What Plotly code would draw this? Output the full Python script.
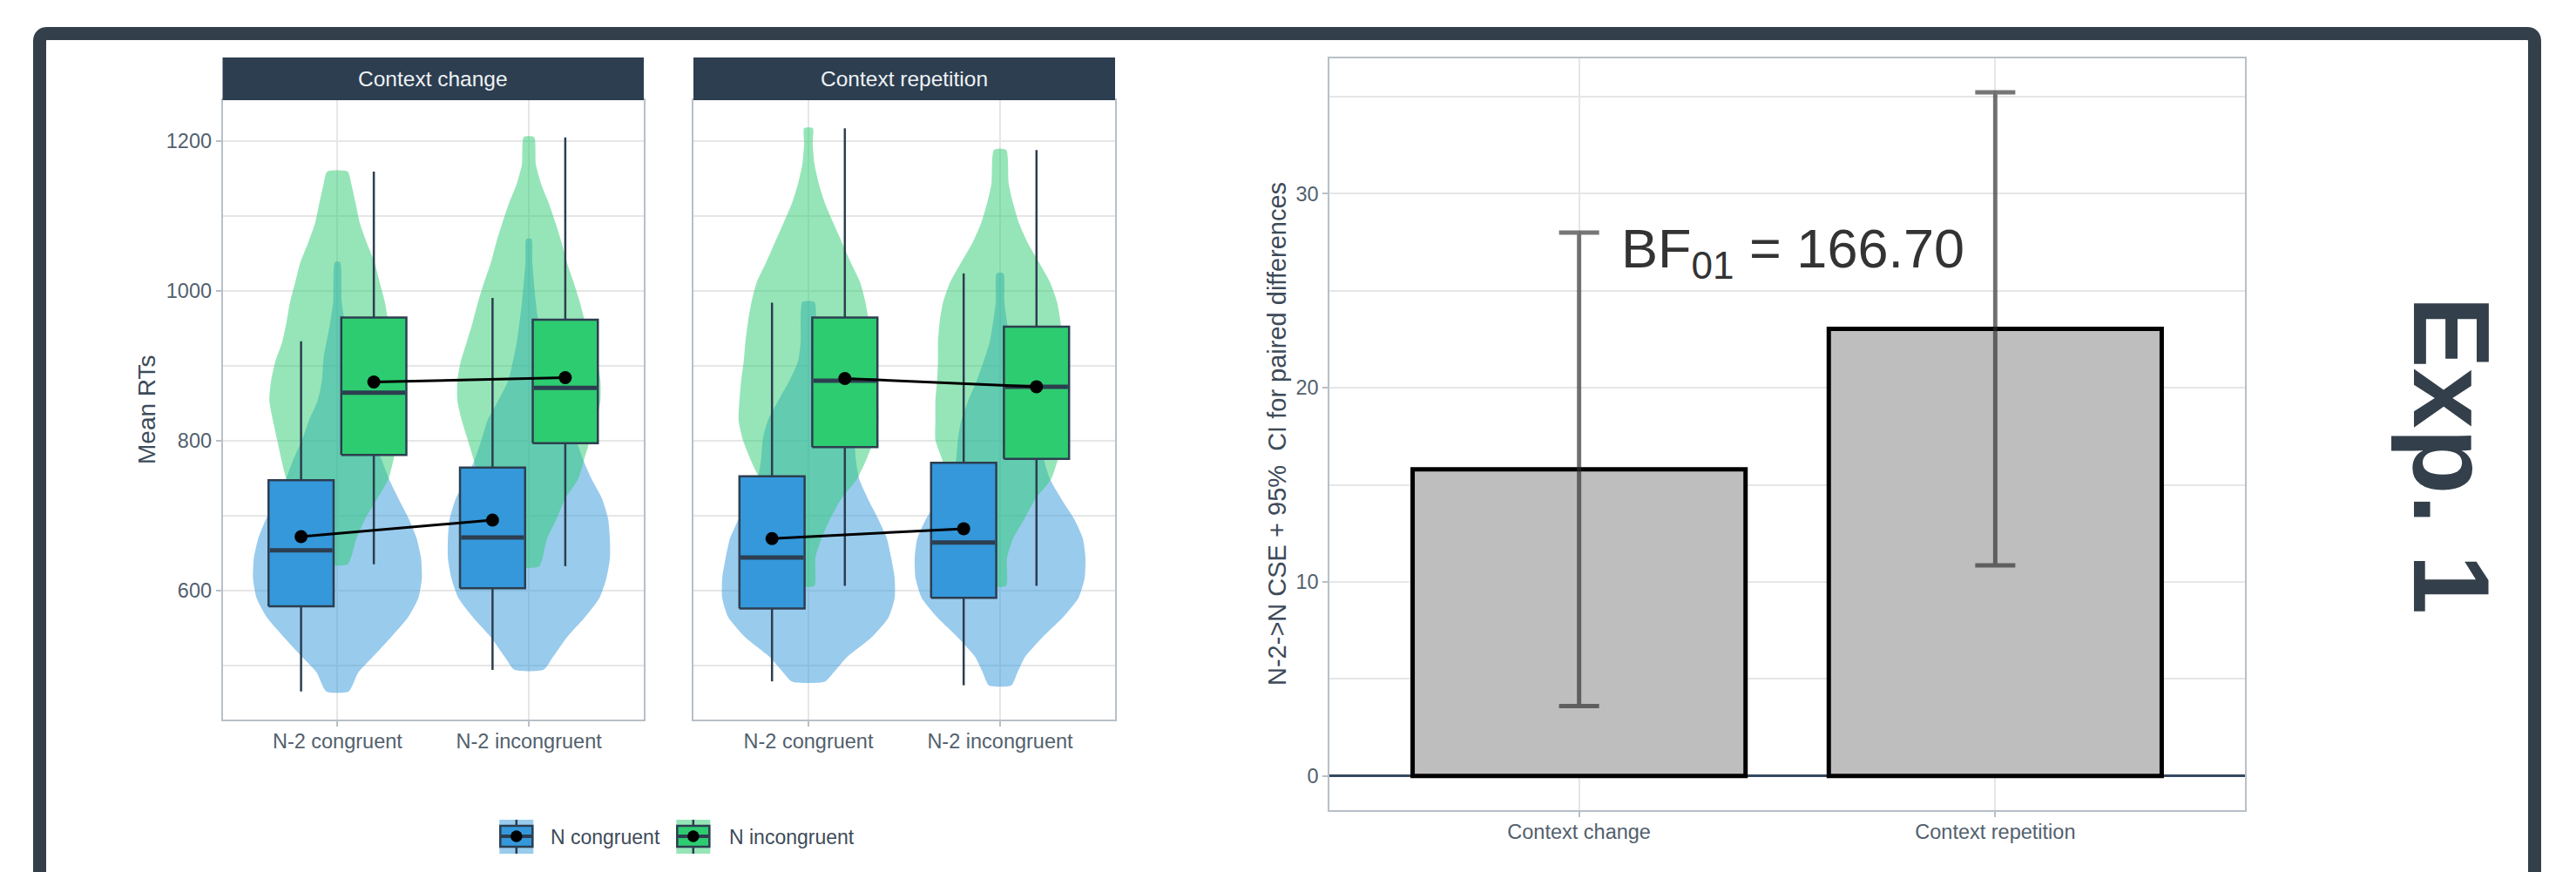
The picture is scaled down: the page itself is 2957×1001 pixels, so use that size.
import plotly.graph_objects as go

W, H = 2957, 1001

# ---------------------------------------------------------------- data
contexts = ["Context change", "Context repetition"]
n2_levels = ["N-2 congruent", "N-2 incongruent"]
n_levels = ["N congruent", "N incongruent"]

# box statistics, order: [change/N-2 cong, change/N-2 incong, repetition/N-2 cong, repetition/N-2 incong]
cong_q1 = [578.5, 602.7, 575.8, 590.0]
cong_median = [653.3, 670.6, 643.8, 663.8]
cong_q3 = [747.0, 763.8, 752.3, 770.2]
cong_lower = [465.0, 493.7, 478.4, 473.2]
cong_upper = [932.3, 990.3, 984.0, 1023.0]
cong_mean = [671.7, 693.8, 669.0, 682.2]

incong_q1 = [780.7, 796.5, 791.2, 775.4]
incong_median = [863.9, 870.2, 879.7, 871.8]
incong_q3 = [964.0, 961.3, 964.0, 951.8]
incong_lower = [634.8, 632.2, 605.9, 605.9]
incong_upper = [1158.8, 1204.6, 1216.7, 1187.7]
incong_mean = [878.1, 883.9, 882.8, 871.8]

# violin density profiles (RT level -> relative density)
vio_change_c_cong_rt = [465, 490, 511, 537, 564, 590, 616, 643, 669, 695, 722, 748, 775, 801, 827, 853, 880, 911, 953, 985, 1038]
vio_change_c_cong_d = [.13, .24, .41, .62, .82, .94, .98, .97, .92, .83, .71, .60, .51, .41, .33, .23, .18, .16, .09, .05, .03]
vio_change_c_incong_rt = [635, 669, 695, 722, 748, 774, 801, 827, 853, 880, 906, 932, 959, 985, 1011, 1038, 1064, 1090, 1117, 1143, 1159]
vio_change_c_incong_d = [.12, .22, .32, .46, .59, .65, .70, .75, .79, .77, .72, .64, .59, .55, .49, .43, .34, .26, .21, .16, .12]
vio_change_i_cong_rt = [494, 511, 537, 564, 590, 616, 643, 669, 695, 722, 748, 774, 801, 827, 848, 880, 932, 985, 1038, 1069]
vio_change_i_cong_d = [.17, .28, .44, .65, .82, .90, .94, .94, .92, .85, .73, .63, .55, .48, .38, .24, .14, .08, .04, .03]
vio_change_i_incong_rt = [632, 669, 695, 722, 748, 774, 801, 827, 853, 880, 906, 932, 959, 985, 1011, 1038, 1064, 1090, 1117, 1143, 1169, 1205]
vio_change_i_incong_d = [.12, .21, .32, .42, .57, .64, .71, .78, .83, .83, .79, .72, .65, .59, .52, .44, .38, .31, .23, .14, .08, .06]
vio_rep_c_cong_rt = [478, 490, 511, 537, 564, 590, 616, 643, 669, 695, 722, 748, 774, 801, 827, 853, 880, 906, 932, 959, 985]
vio_rep_c_cong_d = [.19, .29, .45, .73, .93, 1.0, 1.0, .96, .91, .81, .69, .59, .55, .53, .47, .35, .22, .12, .09, .09, .07]
vio_rep_c_incong_rt = [606, 643, 669, 695, 722, 748, 774, 801, 827, 853, 880, 906, 932, 959, 985, 1011, 1038, 1064, 1090, 1117, 1143, 1169, 1196, 1217]
vio_rep_c_incong_d = [.07, .08, .15, .25, .38, .56, .67, .76, .81, .80, .78, .75, .73, .70, .66, .60, .49, .39, .29, .19, .12, .07, .05, .05]
vio_rep_i_cong_rt = [473, 490, 511, 537, 564, 590, 616, 643, 669, 695, 722, 748, 774, 801, 827, 853, 880, 932, 985, 1023]
vio_rep_i_cong_d = [.13, .20, .29, .49, .73, .91, .98, .99, .96, .86, .71, .58, .51, .49, .45, .37, .27, .12, .05, .04]
vio_rep_i_incong_rt = [606, 643, 669, 695, 722, 748, 774, 801, 827, 853, 880, 906, 932, 959, 985, 1011, 1038, 1064, 1090, 1117, 1143, 1188]
vio_rep_i_incong_d = [.07, .08, .15, .28, .41, .59, .67, .75, .75, .75, .73, .72, .72, .70, .66, .58, .45, .32, .22, .15, .10, .07]

# N-2 -> N congruency sequence effect per context
cse_mean = [15.8, 23.04]
cse_ci_low = [3.6, 10.85]
cse_ci_high = [28.0, 35.23]
bf01_text = "BF<sub>01</sub> = 166.70"

# ---------------------------------------------------------------- style
FONT = "Liberation Sans, Arial, Helvetica, sans-serif"
BLUE = "#3498db"
GREEN = "#2ecc71"
BLUE_A = "rgba(52,152,219,0.5)"
GREEN_A = "rgba(46,204,113,0.5)"
DARK = "#2c3e50"
FRAME = "#333f4a"
GRID = "#e6e6e6"
BORDER = "#b8c0c8"
TICK_COL = "#52606d"
TITLE_COL = "#3d4b59"

VIOLIN_HALF = 0.45      # x-units for relative density 1.0
BOX_OFFSET = 0.19
BOX_WIDTH = 0.34


def fx(px):
    return px / W


def fy(py):
    return 1 - py / H


fig = go.Figure()

violins = {
    (0, 0, 0): (vio_change_c_cong_rt, vio_change_c_cong_d),
    (0, 0, 1): (vio_change_c_incong_rt, vio_change_c_incong_d),
    (0, 1, 0): (vio_change_i_cong_rt, vio_change_i_cong_d),
    (0, 1, 1): (vio_change_i_incong_rt, vio_change_i_incong_d),
    (1, 0, 0): (vio_rep_c_cong_rt, vio_rep_c_cong_d),
    (1, 0, 1): (vio_rep_c_incong_rt, vio_rep_c_incong_d),
    (1, 1, 0): (vio_rep_i_cong_rt, vio_rep_i_cong_d),
    (1, 1, 1): (vio_rep_i_incong_rt, vio_rep_i_incong_d),
}

axes = [("x", "y"), ("x2", "y2")]

# violins: congruent first, incongruent drawn over it
for n in (0, 1):
    for c in (0, 1):
        xa, ya = axes[c]
        for k in (0, 1):
            rt, dens = violins[(c, k, n)]
            centre = k + 1
            xs = [centre + d * VIOLIN_HALF for d in dens] + [centre - d * VIOLIN_HALF for d in reversed(dens)]
            ys = list(rt) + list(reversed(rt))
            fig.add_trace(go.Scatter(
                x=xs + [xs[0]], y=ys + [ys[0]], mode="lines", fill="toself",
                fillcolor=[BLUE_A, GREEN_A][n], line=dict(width=0, shape="spline", smoothing=0.6),
                xaxis=xa, yaxis=ya, hoverinfo="skip", showlegend=False))

stats = [
    (cong_q1, cong_median, cong_q3, cong_lower, cong_upper, cong_mean, BLUE, -BOX_OFFSET),
    (incong_q1, incong_median, incong_q3, incong_lower, incong_upper, incong_mean, GREEN, BOX_OFFSET),
]

# boxplots (whiskers, box, thick median) drawn as line/area traces so they sit above the violins
for c in (0, 1):
    xa, ya = axes[c]
    for q1, med, q3, lo, hi, mean, col, off in stats:
        for k in (0, 1):
            i = 2 * c + k
            p = k + 1 + off
            hw = BOX_WIDTH / 2
            fig.add_trace(go.Scatter(
                x=[p, p, None, p, p], y=[q3[i], hi[i], None, q1[i], lo[i]], mode="lines",
                line=dict(color=DARK, width=2.5), xaxis=xa, yaxis=ya, hoverinfo="skip", showlegend=False))
            fig.add_trace(go.Scatter(
                x=[p - hw, p + hw, p + hw, p - hw, p - hw], y=[q1[i], q1[i], q3[i], q3[i], q1[i]],
                mode="lines", fill="toself", fillcolor=col, line=dict(color=DARK, width=2.5),
                xaxis=xa, yaxis=ya, hoverinfo="skip", showlegend=False))
            fig.add_trace(go.Scatter(
                x=[p - hw + 0.006, p + hw - 0.006], y=[med[i], med[i]], mode="lines",
                line=dict(color=DARK, width=5), xaxis=xa, yaxis=ya, hoverinfo="skip", showlegend=False))

# condition means joined across N-2 levels
for c in (0, 1):
    xa, ya = axes[c]
    for q1, med, q3, lo, hi, mean, col, off in stats:
        fig.add_trace(go.Scatter(x=[1 + off, 2 + off], y=mean[2 * c:2 * c + 2], mode="lines+markers",
                                 line=dict(color="black", width=3),
                                 marker=dict(color="black", size=15),
                                 xaxis=xa, yaxis=ya, hoverinfo="skip", showlegend=False))

# bar chart of the CSE with 95% CI
fig.add_trace(go.Bar(
    x=[1, 2], y=cse_mean, width=0.8,
    marker=dict(color="#bebebe", line=dict(color="black", width=5)),
    error_y=dict(type="data", symmetric=False,
                 array=[h - m for h, m in zip(cse_ci_high, cse_mean)],
                 arrayminus=[m - l for m, l in zip(cse_mean, cse_ci_low)],
                 color="rgba(45,45,45,0.65)", thickness=5, width=23),
    xaxis="x3", yaxis="y3", hoverinfo="skip", showlegend=False))

tickfont = dict(family=FONT, size=23.5, color=TICK_COL)
common = dict(showline=True, linecolor=BORDER, linewidth=1.5, mirror=True,
              gridcolor=GRID, gridwidth=2, zeroline=False, tickfont=tickfont,
              ticks="outside", ticklen=6, tickcolor=BORDER, tickwidth=1.5)

xcat = dict(range=[0.4, 2.6], tickvals=[1, 2], ticktext=n2_levels, showgrid=True,
            ticklabelstandoff=-3, **common)
ydom = [fy(826), fy(115)]
yleft = dict(range=[427.4, 1254.3], tickvals=[600, 800, 1000, 1200], showgrid=True,
             minor=dict(tickvals=[500, 700, 900, 1100], showgrid=True, gridcolor=GRID, gridwidth=2, ticks=""),
             **common)

fig.update_layout(
    width=W, height=H, autosize=False,
    margin=dict(l=0, r=0, t=0, b=0),
    paper_bgcolor="white", plot_bgcolor="white",
    font=dict(family=FONT),
    xaxis=dict(domain=[fx(255.5), fx(739)], anchor="y", **xcat),
    xaxis2=dict(domain=[fx(796), fx(1280)], anchor="y2", **xcat),
    yaxis=dict(domain=ydom, anchor="x", **yleft),
    yaxis2=dict(domain=ydom, anchor="x2", matches="y", showticklabels=False, **yleft),
    xaxis3=dict(domain=[fx(1526), fx(2577)], anchor="y3", range=[0.4, 2.6],
                tickvals=[1, 2], ticktext=contexts, showgrid=True, ticklabelstandoff=-3, **common),
    yaxis3=dict(domain=[fy(930), fy(66.7)], anchor="x3", range=[-1.76, 36.99],
                tickvals=[0, 10, 20, 30], showgrid=True,
                minor=dict(tickvals=[5, 15, 25, 35], showgrid=True, gridcolor=GRID, gridwidth=2, ticks=""),
                **{**common, "zeroline": True}, zerolinecolor="#34495e", zerolinewidth=2.5),
)
fig.layout.yaxis2.ticks = ""

shapes = []
annotations = []

# facet strips
for (l, r), label in zip([(255.5, 739), (796, 1280)], contexts):
    shapes.append(dict(type="rect", xref="paper", yref="paper", x0=fx(l), x1=fx(r), y0=fy(115), y1=fy(66),
                       fillcolor=DARK, line=dict(width=0), layer="above"))
    annotations.append(dict(xref="paper", yref="paper", x=fx((l + r) / 2), y=fy(90.5), text=label,
                            showarrow=False, font=dict(family=FONT, size=24.5, color="#eef1f4"),
                            xanchor="center", yanchor="middle"))

# axis titles
annotations.append(dict(xref="paper", yref="paper", x=fx(168), y=fy(470), text="Mean RTs", textangle=-90,
                        showarrow=False, font=dict(family=FONT, size=28, color=TITLE_COL),
                        xanchor="center", yanchor="middle"))
annotations.append(dict(xref="paper", yref="paper", x=fx(1466), y=fy(498),
                        text="N-2->N CSE + 95%\u00a0 CI for paired differences", textangle=-90,
                        showarrow=False, font=dict(family=FONT, size=29, color=TITLE_COL),
                        xanchor="center", yanchor="middle"))

# Bayes factor label
annotations.append(dict(xref="x3", yref="y3", x=1.514, y=27.0, text=bf01_text, showarrow=False,
                        font=dict(family=FONT, size=63, color="#333333"), xanchor="center", yanchor="middle"))

# experiment label
annotations.append(dict(xref="paper", yref="paper", x=fx(2814), y=fy(522), text="<b>Exp. 1</b>", textangle=90,
                        showarrow=False, font=dict(family=FONT, size=124, color=FRAME),
                        xanchor="center", yanchor="middle"))

# legend keys
for cx, bg, fill, label, tx in [(592.8, BLUE_A, BLUE, n_levels[0], 630), (795.8, GREEN_A, GREEN, n_levels[1], 835)]:
    shapes.append(dict(type="rect", xref="paper", yref="paper", x0=fx(cx - 19.5), x1=fx(cx + 19.5),
                       y0=fy(980), y1=fy(941), fillcolor=bg, line=dict(width=0)))
    shapes.append(dict(type="line", xref="paper", yref="paper", x0=fx(cx), x1=fx(cx), y0=fy(980), y1=fy(941),
                       line=dict(color=DARK, width=2.5)))
    shapes.append(dict(type="rect", xref="paper", yref="paper", x0=fx(cx - 18.5), x1=fx(cx + 18.5),
                       y0=fy(972), y1=fy(948), fillcolor=fill, line=dict(color=DARK, width=2.5)))
    shapes.append(dict(type="line", xref="paper", yref="paper", x0=fx(cx - 18.5), x1=fx(cx + 18.5),
                       y0=fy(960), y1=fy(960), line=dict(color=DARK, width=4)))
    shapes.append(dict(type="circle", xref="paper", yref="paper", x0=fx(cx - 6.7), x1=fx(cx + 6.7),
                       y0=fy(966.7), y1=fy(953.3), fillcolor="black", line=dict(width=0)))
    annotations.append(dict(xref="paper", yref="paper", x=fx(tx), y=fy(961), text=label, showarrow=False,
                            font=dict(family=FONT, size=23, color=TITLE_COL), xanchor="left", yanchor="middle"))

# outer frame with rounded corners (open at the bottom edge of the page)
L, T, R, B, rad = 45.5, 38.5, 2909.5, 1060, 9
frame_path = (f"M {fx(L)},{fy(B)} L {fx(L)},{fy(T + rad)} Q {fx(L)},{fy(T)} {fx(L + rad)},{fy(T)} "
              f"L {fx(R - rad)},{fy(T)} Q {fx(R)},{fy(T)} {fx(R)},{fy(T + rad)} L {fx(R)},{fy(B)}")
shapes.append(dict(type="path", xref="paper", yref="paper", path=frame_path,
                   line=dict(color=FRAME, width=15)))

fig.update_layout(shapes=shapes, annotations=annotations)
fig.write_html("out.html")
